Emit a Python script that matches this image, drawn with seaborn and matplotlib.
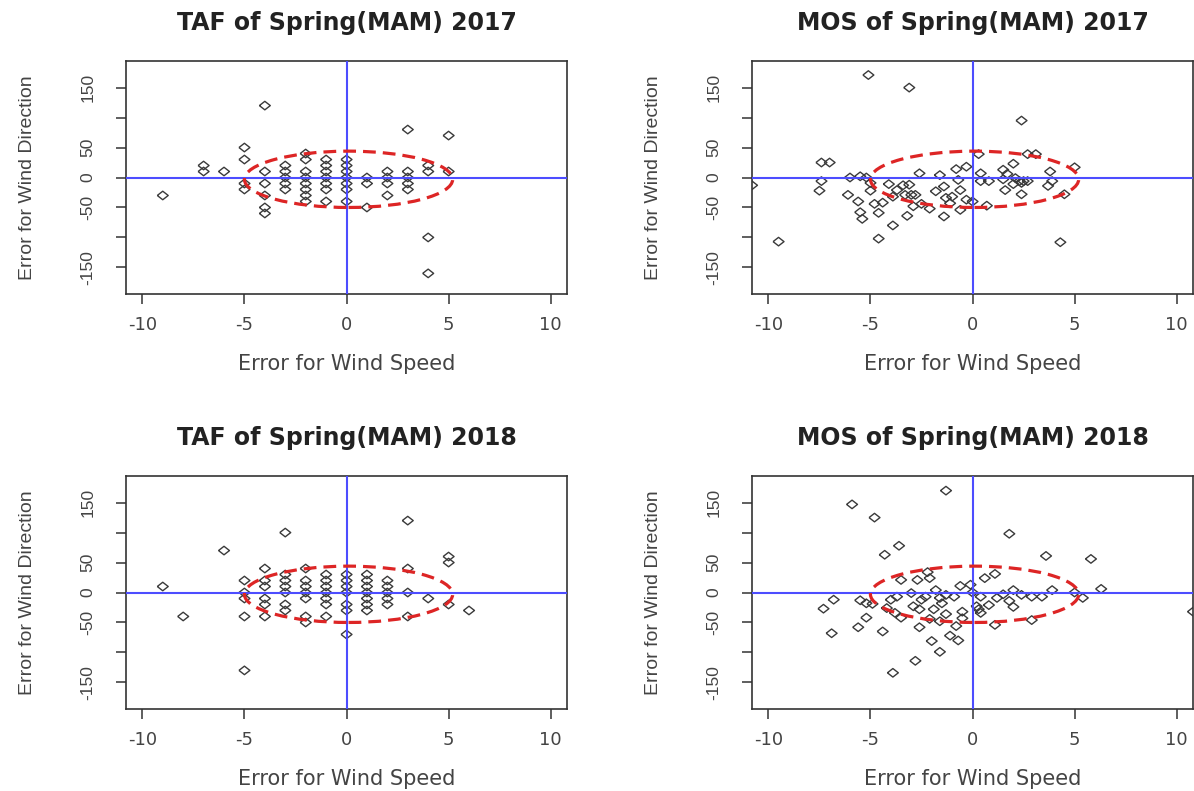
import numpy as np
import matplotlib
matplotlib.use("Agg")
import matplotlib.pyplot as plt
from matplotlib.patches import Ellipse
import seaborn as sns

# ---- data (x: wind speed error, y: wind direction error) ----
taf17_x = [-4, 3, 5, -5, -5, -7, -7, -6, -9, -4, -5, -5, -4, -4, -4, -4,
           -3, -3, -3, -3, -3,
           -2, -2, -2, -2, -2, -2, -2, -2,
           -1, -1, -1, -1, -1, -1, -1,
           0, 0, 0, 0, 0, 0, 0,
           1, 1, 1, 2, 2, 2, 2, 3, 3, 3, 3, 4, 4, 4, 4, 5]
taf17_y = [120, 80, 70, 50, 30, 20, 10, 10, -30, 10, -10, -20, -10, -30, -50, -60,
           20, 10, 0, -10, -20,
           40, 30, 10, 0, -10, -20, -30, -40,
           30, 20, 10, 0, -10, -20, -40,
           30, 20, 10, 0, -10, -20, -40,
           0, -10, -50, 10, 0, -10, -30, 10, 0, -10, -20, 20, 10, -100, -160, 10]

mos17_x = [-5.1, -3.1, 2.4, -9.5, 4.3, -4.6, -3.9, -10.8, -7.4, -7.0, -7.4, -7.5,
           -6.0, -5.5, -5.2, -6.1, -5.6, -5.5, -5.4, -5.0, -5.0, -4.8, -4.6, -4.4,
           -4.1, -3.7, -3.4, -3.3, -3.1, -3.0, -2.9, -3.2, -3.9, -2.6, -2.8, -2.5,
           -2.1, -1.8, -1.6, -1.4, -1.4, -1.3, -1.1, -1.0, -0.8, -0.7, -0.6, -0.6,
           -0.3, -0.3, 0.0, 0.3, 0.4, 0.4, 0.8, 0.7, 1.5, 1.5, 1.6, 1.7, 2.0, 2.0,
           2.1, 2.3, 2.4, 2.4, 2.5, 2.7, 2.7, 3.1, 3.8, 3.9, 3.7, 4.5, 5.0]
mos17_y = [171, 150, 95, -107, -108, -102, -80, -13, 25, 25, -6, -22,
           0, 2, 0, -29, -40, -58, -69, -9, -22, -44, -59, -42,
           -11, -21, -13, -29, -12, -29, -48, -64, -32, 7, -29, -44,
           -52, -23, 4, -15, -65, -34, -43, -32, 14, -4, -21, -54,
           18, -37, -40, 39, 7, -6, -6, -47, 13, -3, -21, 6, 23, -11,
           -1, -6, -9, -28, -6, -6, 39, 39, 10, -6, -14, -28, 17]

taf18_x = [3, -3, -6, 5, 5, -9, -8, -5, 0, 6, 5, 4, 3, 3, 3,
           -5, -5, -5, -5,
           -4, -4, -4, -4, -4, -4,
           -3, -3, -3, -3, -3, -3,
           -2, -2, -2, -2, -2, -2, -2,
           -1, -1, -1, -1, -1, -1, -1,
           0, 0, 0, 0, 0, 0,
           1, 1, 1, 1, 1, 1, 1,
           2, 2, 2, 2, 2]
taf18_y = [120, 100, 70, 60, 50, 10, -40, -130, -70, -30, -20, -10, 40, 0, -40,
           20, 0, -10, -40,
           40, 20, 10, -10, -20, -40,
           30, 20, 10, 0, -20, -30,
           40, 20, 10, 0, -10, -40, -50,
           30, 20, 10, 0, -10, -20, -40,
           30, 20, 10, 0, -20, -30,
           30, 20, 10, 0, -10, -20, -30,
           20, 10, 0, -10, -20]

mos18_x = [-1.3, -5.9, -4.8, 1.8, -3.6, -4.3, 3.6, 5.8, 6.3, 10.8, 5.0, 5.4,
           -6.8, -7.3, -6.9, -5.6, -5.2, -4.4, -3.9, -2.8, -1.6, -2.0, -1.1, -0.7,
           -2.6, -0.8, 1.1, 2.9, -5.5, -5.2, -4.9, -4.2, -3.8, -3.5, -4.0, -3.7,
           -3.5, -3.0, -2.7, -2.5, -2.9, -2.6, -2.2, -2.1, -2.3, -2.1, -1.9, -1.8,
           -1.6, -1.5, -1.3, -1.3, -0.9, -1.6, -0.6, -0.5, -0.5, -0.1, 0.0, 0.2,
           0.3, 0.4, 0.6, 1.1, 0.8, 0.4, 1.2, 1.5, 2.0, 1.8, 2.0, 2.4, 2.9, 3.4, 3.9]
mos18_y = [170, 147, 125, 98, 78, 63, 61, 56, 6, -32, 0, -9,
           -12, -27, -68, -58, -42, -65, -134, -114, -99, -81, -72, -80,
           -58, -56, -54, -46, -13, -18, -19, -26, -34, -42, -12, -7,
           21, -1, 21, -12, -23, -28, 34, 24, -7, -44, -28, 4,
           -9, -18, -4, -36, -7, -48, 11, -32, -43, 13, 0, -23,
           -28, -34, 24, 31, -21, -7, -9, -3, 4, -14, -24, -4, -7, -7, 4]

panels = [
    ("TAF of Spring(MAM) 2017", taf17_x, taf17_y),
    ("MOS of Spring(MAM) 2017", mos17_x, mos17_y),
    ("TAF of Spring(MAM) 2018", taf18_x, taf18_y),
    ("MOS of Spring(MAM) 2018", mos18_x, mos18_y),
]

x_ticks = [-10, -5, 0, 5, 10]
y_ticks = [-150, -100, -50, 0, 50, 100, 150]
y_ticklabels = ["-150", "", "-50", "0", "50", "", "150"]

sns.set_style("ticks")
plt.rcParams["font.family"] = ["DejaVu Sans"]
narrow = ["Liberation Sans Narrow", "DejaVu Sans Condensed", "Liberation Sans", "DejaVu Sans"]

# R-style open diamond, a bit wider than tall like in the picture
diamond = [(-1, 0), (0, 0.78), (1, 0), (0, -0.78), (-1, 0)]

W, H = 1194, 791
fig = plt.figure(figsize=(W / 100, H / 100), dpi=100)

# axes boxes in pixels (left, top, width, height)
boxes = [(126, 61, 441, 233), (752, 61, 441, 233),
         (126, 476, 441, 233), (752, 476, 441, 233)]

edge = "#333333"
for (title, xs, ys), (l, t, w, h) in zip(panels, boxes):
    ax = fig.add_axes([l / W, 1 - (t + h) / H, w / W, h / H])
    sns.scatterplot(x=xs, y=ys, ax=ax, marker=diamond, s=62, facecolor="none",
                    edgecolor="#3a3a3a", linewidth=1.0, zorder=2)
    ax.axvline(0, color="#4d4dff", lw=1.5, zorder=3)
    ax.axhline(0, color="#4d4dff", lw=1.5, zorder=3)
    ax.add_patch(Ellipse((0.1, -3), width=10.2, height=94, fill=False,
                         edgecolor="#dd2525", lw=2.3, linestyle=(0, (4, 2.2)), zorder=4))

    ax.set_xlim(-10.8, 10.8)
    ax.set_ylim(-194.4, 194.4)
    ax.set_xticks(x_ticks)
    ax.set_xticklabels([str(v) for v in x_ticks], fontsize=13, color="#444444")
    ax.set_yticks(y_ticks)
    ax.set_yticklabels(y_ticklabels, rotation=90, va="center", fontsize=12.5,
                       family=narrow, color="#444444")
    ax.tick_params(axis="x", length=7, width=1.1, pad=9, color=edge)
    ax.tick_params(axis="y", length=7, width=1.1, pad=15, color=edge)
    for sp in ax.spines.values():
        sp.set_color(edge)
        sp.set_linewidth(1.2)

    ax.set_title(title, fontsize=17, fontweight="bold", pad=22, color="#222222")
    ax.set_xlabel("Error for Wind Speed", fontsize=15, labelpad=14, color="#444444")
    ax.set_ylabel("Error for Wind Direction", fontsize=14, family=narrow, color="#444444")
    ax.yaxis.set_label_coords(-0.205, 0.5)
    ax.yaxis.label.set_va("bottom")

fig.savefig("out.png", dpi=100)
